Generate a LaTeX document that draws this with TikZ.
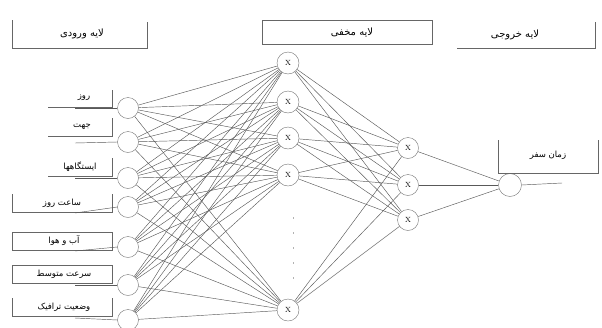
\documentclass[tikz,border=0pt]{standalone}
\usepackage{fontspec}
\newfontfamily\arabicfont[Script=Arabic]{DejaVu Sans}
\TeXXeTstate=1
\newcommand{\fa}[1]{{\arabicfont\beginR #1\endR}}
\tikzset{
  neuron/.style={draw=black!55, circle, minimum size=21pt, inner sep=0pt, font=\fontsize{7.5}{7.5}\selectfont},
  link/.style={draw=black!65, line width=0.45pt},
  frame/.style={draw=black!60, line width=0.7pt},
  hdr/.style={font=\fontsize{10}{11}\selectfont, inner sep=0pt},
  lbl/.style={font=\fontsize{8.5}{9}\selectfont, inner sep=0pt},
}
\begin{document}
\begin{tikzpicture}[x=1pt, y=-1pt]
\useasboundingbox (0,0) rectangle (602,327);

% koppen van de lagen
\draw[frame] (12,20) -- (12,48) -- (147,48) -- (147,22);
\node[hdr] (hin) at (82,34) {\fa{لایه ورودی}};
\draw[frame] (262,20) rectangle (432,44);
\node[hdr] (hmid) at (352,32) {\fa{لایه مخفی}};
\draw[frame] (457,48) -- (595,48) -- (595,22);
\node[hdr] (hout) at (515,35) {\fa{لایه خروجی}};

% invoer
\draw[frame] (48,107) -- (112,107) -- (112,90);
\draw[frame] (48,136) -- (112,136) -- (112,118);
\draw[frame] (48,176) -- (112,176) -- (112,158);
\draw[frame] (12,194) -- (12,212) -- (112,212) -- (112,194);
\draw[frame] (12,232) rectangle (112,250);
\draw[frame] (12,265) rectangle (112,283);
\draw[frame] (12,298) -- (12,316) -- (112,316) -- (112,298);
\node[lbl] (l1) at (84,98) {\fa{روز}};
\node[lbl] (l2) at (82,127) {\fa{جهت}};
\node[lbl] (l3) at (80,167) {\fa{ایستگاهها}};
\node[lbl] (l4) at (62,203) {\fa{ساعت روز}};
\node[lbl] (l5) at (64,241) {\fa{آب و هوا}};
\node[lbl] (l6) at (64,274) {\fa{سرعت متوسط}};
\node[lbl] (l7) at (64,307) {\fa{وضعیت ترافیک}};

\foreach \n/\y/\s in {1/108/108, 2/142/143, 3/178/178, 4/207/213, 5/247/251, 6/285/285, 7/320/318} {
  \node[neuron] (i\n) at (128,\y) {};
  \coordinate (s\n) at (75,\s);
  \draw[link] (s\n) -- (i\n.west);
}

% verborgen lagen
\foreach \n/\y in {1/63, 2/102, 3/138, 4/175, 5/310}
  \node[neuron, minimum size=22pt] (h\n) at (288,\y) {X};
\draw[black!30, line width=1pt, dash pattern=on 2pt off 13pt] (293,217) -- (293,280);
\foreach \n/\y in {1/148, 2/185, 3/220}
  \node[neuron] (m\n) at (408,\y) {X};

% uitvoer
\node[neuron, minimum size=23pt] (o) at (510,185) {};
\coordinate (oend) at (562,183);
\draw[link] (o.east) -- (oend);
\draw[frame] (498,140) -- (498,173) -- (598,173) -- (598,140);
\node[lbl] (lo) at (548,155) {\fa{زمان سفر}};

% verbindingen
\foreach \i in {1,...,7}
  \foreach \h in {1,...,5}
    \draw[link] (i\i) -- (h\h);
\foreach \h in {1,...,5}
  \foreach \m in {1,2,3}
    \draw[link] (h\h) -- (m\m);
\foreach \m in {1,2,3}
  \draw[link] (m\m) -- (o);
\end{tikzpicture}
\end{document}
